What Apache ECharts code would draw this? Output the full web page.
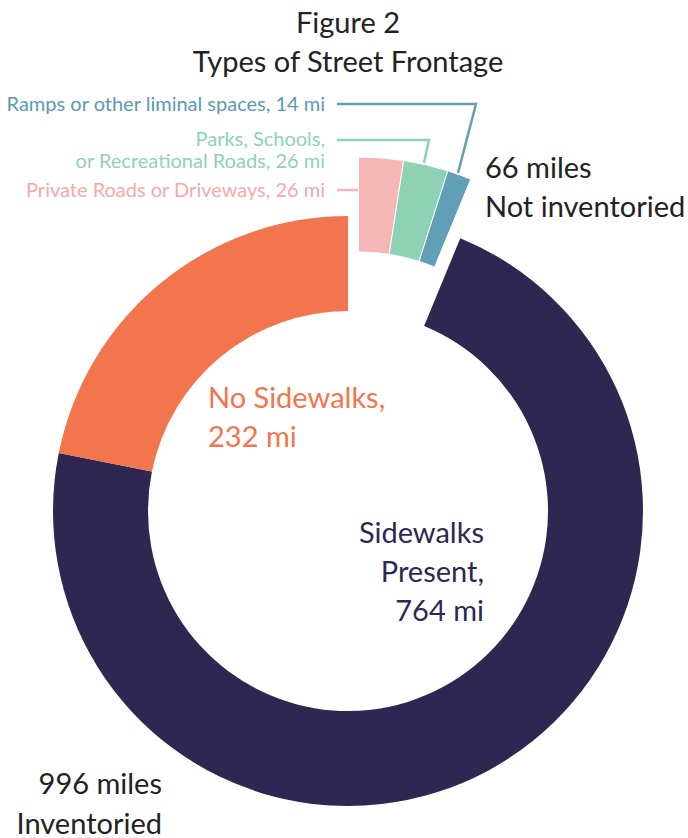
<!DOCTYPE html>
<html>
<head>
<meta charset="utf-8">
<script src="https://cdn.jsdelivr.net/npm/echarts@6/dist/echarts.min.js"></script>
<style>
html,body{margin:0;padding:0;background:#fff;}
#chart{width:688px;height:838px;}
</style>
</head>
<body>
<div id="chart"></div>
<script>
// ---- data ----
const titleLines = ['Figure 2', 'Types of Street Frontage'];
const mainCategories = ['Not inventoried', 'Sidewalks Present', 'No Sidewalks'];
const mainMiles = [66, 764, 232];
const detailCategories = ['Private Roads or Driveways', 'Parks, Schools, or Recreational Roads', 'Ramps or other liminal spaces', 'Inventoried'];
const detailMiles = [26, 26, 14, 996];
const totalLabels = ['996 miles', 'Inventoried', '66 miles', 'Not inventoried'];

// ---- styles ----
const NAVY = '#2e2752', ORANGE = '#f2754e', PINK = '#f7b6b6', MINT = '#8fd1b4', TEAL = '#609fb5';
const FONT = 'Lato, "Open Sans", sans-serif';
const BIG = 29, SMALL = 20;

const chart = echarts.init(document.getElementById('chart'), null, {renderer: 'svg'});

const hidden = {color: 'rgba(0,0,0,0)', borderWidth: 0};
const mainColors = [null, NAVY, ORANGE];
const detailColors = [PINK, MINT, TEAL, null];

const mainData = mainCategories.map((c, i) => ({
  name: c, value: mainMiles[i],
  itemStyle: mainColors[i] ? {color: mainColors[i]} : hidden
}));
const detailData = detailCategories.map((c, i) => ({
  name: c, value: detailMiles[i],
  itemStyle: detailColors[i] ? {color: detailColors[i], borderColor: '#fff', borderWidth: 1} : hidden
}));

function txt(text, x, y, size, color, align, lh) {
  return {
    type: 'text', silent: true,
    style: {
      text: text, x: x, y: y, fill: color,
      font: size + 'px ' + FONT,
      textAlign: align, textVerticalAlign: 'top',
      lineHeight: lh
    }
  };
}
function line(points, color) {
  return {
    type: 'polyline', silent: true,
    shape: {points: points},
    style: {stroke: color, lineWidth: 2.5, fill: null}
  };
}

const option = {
  backgroundColor: '#fff',
  animation: false,
  series: [
    {
      type: 'pie', center: [348, 511], radius: [200, 295],
      startAngle: 90, clockwise: true, silent: true,
      label: {show: false}, labelLine: {show: false},
      emphasis: {disabled: true},
      data: mainData
    },
    {
      type: 'pie', center: [358.5, 452], radius: [200, 295],
      startAngle: 90, clockwise: true, silent: true,
      label: {show: false}, labelLine: {show: false},
      emphasis: {disabled: true},
      data: detailData
    }
  ],
  graphic: [
    txt(titleLines[0] + '\n' + titleLines[1], 348, 2, BIG, '#222', 'center', 39),
    txt(totalLabels[2] + '\n' + totalLabels[3], 485, 147, BIG, '#222', 'left', 39),
    txt(totalLabels[0] + '\n' + totalLabels[1], 162, 762, BIG, '#222', 'right', 40),
    txt('No Sidewalks,\n' + mainMiles[2] + ' mi', 208, 377, BIG, ORANGE, 'left', 39),
    txt('Sidewalks\nPresent,\n' + mainMiles[1] + ' mi', 484, 512, BIG, NAVY, 'right', 39),
    txt(detailCategories[2] + ', ' + detailMiles[2] + ' mi', 325, 92, SMALL, '#5a9ab0', 'right', 22),
    txt('Parks, Schools,\nor Recreational Roads, ' + detailMiles[1] + ' mi', 325, 127, SMALL, MINT, 'right', 22),
    txt(detailCategories[0] + ', ' + detailMiles[0] + ' mi', 325, 178, SMALL, '#f5a9a9', 'right', 22),
    line([[337, 104], [476, 104], [458, 173]], TEAL),
    line([[337, 140], [429, 140], [424, 163]], MINT),
    line([[337, 190], [360, 190]], PINK)
  ]
};
chart.setOption(option);
</script>
</body>
</html>
